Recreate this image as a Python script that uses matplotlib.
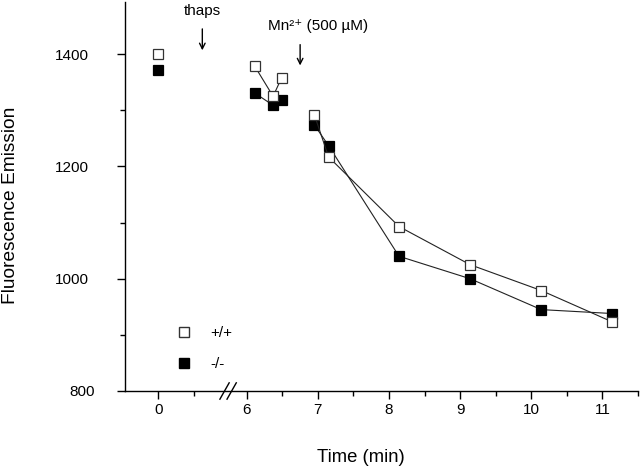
import matplotlib
matplotlib.use("Agg")
import matplotlib.pyplot as plt
from matplotlib.lines import Line2D
import matplotlib.transforms as mtransforms
import numpy as np

plt.rcParams['font.family'] = ['Liberation Sans', 'DejaVu Sans']

# ---- data (time in min, fluorescence emission) ----
t_pre = [0.0]
wt_pre = [1400]
ko_pre = [1372]

t_early = [6.11, 6.37, 6.49]
wt_early = [1379, 1325, 1358]
ko_early = [1331, 1309, 1318]

t_late = [6.95, 7.15, 8.14, 9.14, 10.14, 11.14]
wt_late = [1292, 1217, 1093, 1025, 979, 923]
ko_late = [1274, 1237, 1040, 1000, 945, 938]

xtick_vals = [0, 6, 7, 8, 9, 10, 11]
xtick_labels = ['0', '6', '7', '8', '9', '10', '11']
ytick_vals = [800, 1000, 1200, 1400]

BREAK_OFFSET = 4.757  # display shift for pre-break times


def disp(t):
    t = np.asarray(t, dtype=float)
    return np.where(t < 6, t + BREAK_OFFSET, t)


fig = plt.figure(figsize=(6.4, 4.67), dpi=100)
ax = fig.add_axes([125 / 640, 1 - 391 / 467, (638 - 125) / 640, (391 - 2) / 467])

open_kw = dict(marker='s', markersize=6.5, markerfacecolor='white',
               markeredgecolor='#333333', markeredgewidth=0.9,
               color='#222222', linewidth=0.8)
fill_kw = dict(marker='s', markersize=6.5, markerfacecolor='black',
               markeredgecolor='black', markeredgewidth=0.9,
               color='#222222', linewidth=0.8)

for ts, ys in [(t_pre, ko_pre), (t_early, ko_early), (t_late, ko_late)]:
    ax.plot(disp(ts), ys, **fill_kw, clip_on=False)
for ts, ys in [(t_pre, wt_pre), (t_early, wt_early), (t_late, wt_late)]:
    ax.plot(disp(ts), ys, **open_kw, clip_on=False)

ax.set_xlim(4.288, 11.5)
ax.set_ylim(800, 1493)

ax.spines['top'].set_visible(False)
ax.spines['right'].set_visible(False)
for s in ['left', 'bottom']:
    ax.spines[s].set_linewidth(1.0)

ax.set_xticks(disp(xtick_vals))
ax.set_xticklabels(xtick_labels)
ax.set_xticks(disp([0.5, 6.5, 7.5, 8.5, 9.5, 10.5, 11.5]), minor=True)
ax.set_yticks(ytick_vals)
ax.set_yticks([900, 1100, 1300], minor=True)

ax.tick_params(axis='both', which='major', direction='out', length=6, width=1.0,
               labelsize=11)
ax.tick_params(axis='both', which='minor', direction='out', length=3.5, width=1.0)
ax.tick_params(axis='y', which='major', pad=20)
ax.tick_params(axis='x', which='major', pad=3)

# shift the "800" label slightly right as in the reference
for lbl in ax.get_yticklabels():
    if lbl.get_text() == '800':
        lbl.set_transform(lbl.get_transform() +
                          mtransforms.ScaledTranslation(6 / 100, 0, fig.dpi_scale_trans))

ax.set_ylabel('Fluorescence Emission', fontsize=13.8)
ax.yaxis.set_label_coords((19 - 125) / 513, (391 - 205) / 389)
ax.set_xlabel('Time (min)', fontsize=13.3)
ax.xaxis.set_label_coords((361 - 125) / 513, (391 - 449) / 389)

# axis break marks
trans = mtransforms.blended_transform_factory(ax.transData, ax.transAxes)
bx = disp([0])[0] + (228 - 158.3) / 71.1
for dx in (-0.05, 0.05):
    ax.plot([bx + dx - 0.065, bx + dx + 0.065], [-0.021, 0.021], transform=trans,
            color='black', linewidth=1.0, clip_on=False)

# annotations
ax.annotate('', xy=(5.375, 1402), xytext=(5.375, 1450),
            arrowprops=dict(arrowstyle='->', color='black', lw=1.0))
ax.text(5.375, 1477, 'thaps', ha='center', va='center', fontsize=11)
ax.annotate('', xy=(6.75, 1375), xytext=(6.75, 1422),
            arrowprops=dict(arrowstyle='->', color='black', lw=1.0))
ax.text(6.75 + 0.25, 1450, 'Mn²⁺ (500 µM)', ha='center', va='center', fontsize=11)

handles = [Line2D([], [], linestyle='none', marker='s', markersize=6.5,
                  markerfacecolor='white', markeredgecolor='#333333'),
           Line2D([], [], linestyle='none', marker='s', markersize=6.5,
                  markerfacecolor='black', markeredgecolor='black')]
ax.legend(handles, ['+/+', '-/-'], frameon=False, loc='upper left',
          bbox_to_anchor=(0.0858, 0.166), borderpad=0, borderaxespad=0,
          handletextpad=0.7, labelspacing=1.1, fontsize=11)

fig.savefig('out.png', dpi=100)
